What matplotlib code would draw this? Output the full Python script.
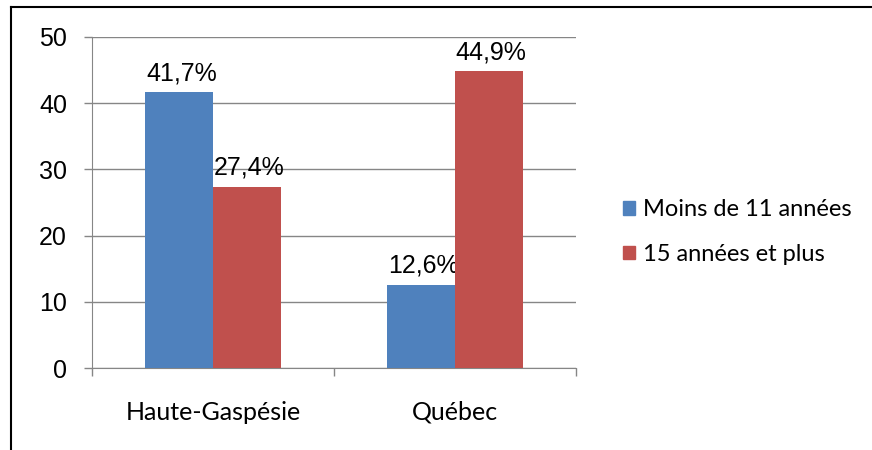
import matplotlib
matplotlib.use("Agg")
import matplotlib.pyplot as plt
from matplotlib.lines import Line2D
from matplotlib.patches import Patch
import numpy as np

categories = ["Haute-Gaspésie", "Québec"]
series_names = ["Moins de 11 années", "15 années et plus"]
moins11 = [41.7, 12.6]
plus15 = [27.4, 44.9]
yticks = [0, 10, 20, 30, 40, 50]
colors = ["#4F81BD", "#C0504D"]

fig = plt.figure(figsize=(8.72, 4.5), dpi=100)
ax = fig.add_axes([92/872, 82/450, 484/872, 331/450])

x = np.arange(len(categories))
w = 0.28
series = [moins11, plus15]
for i, (vals, c) in enumerate(zip(series, colors)):
    pos = x + (i - 0.5) * w
    bars = ax.bar(pos, vals, width=w, color=c, zorder=3, label=series_names[i])
    for b, v in zip(bars, vals):
        ax.text(b.get_x() + b.get_width()/2 + 0.01, v + 1.0, f"{v:.1f}%".replace(".", ","),
                ha="center", va="bottom", fontsize=18, family="Liberation Sans", color="#000000")

ax.set_xlim(-0.5, 1.5)
ax.set_ylim(0, 50)
ax.set_yticks(yticks)
ax.set_yticklabels([str(t) for t in yticks], fontsize=18, family="Liberation Sans")
ax.yaxis.grid(True, color="#868686", linewidth=1.0, zorder=0)
ax.set_axisbelow(True)
ax.set_xticks([-0.5, 0.5, 1.5])
ax.set_xticklabels([])
ax.tick_params(axis="x", direction="out", length=6, color="#868686", width=1)
ax.tick_params(axis="y", direction="out", length=6, color="#868686", width=1, pad=12)
for xc, lab in zip(x, categories):
    ax.text(xc, -6.7, lab, ha="center", va="center", fontsize=18, family="Lato",
            color="#000000", transform=ax.transData)
for s in ["top", "right"]:
    ax.spines[s].set_visible(False)
ax.spines["left"].set_color("#868686")
ax.spines["bottom"].set_color("#868686")

handles = [Patch(facecolor=c, edgecolor=c) for c in colors]
leg = fig.legend(handles, series_names, loc="center left", bbox_to_anchor=(602/872, 1 - 232/450),
                 frameon=False, prop={"family": "Lato", "size": 17},
                 handlelength=0.5, handleheight=0.5, handletextpad=0.35, labelspacing=1.0)

fig.add_artist(Line2D([11/872, 1.0], [1 - 7/450, 1 - 7/450], color="#000000", linewidth=1.5,
                      transform=fig.transFigure))
fig.add_artist(Line2D([11/872, 11/872], [0, 1 - 7/450], color="#000000", linewidth=1.5,
                      transform=fig.transFigure))

fig.savefig("out.png", dpi=100)
